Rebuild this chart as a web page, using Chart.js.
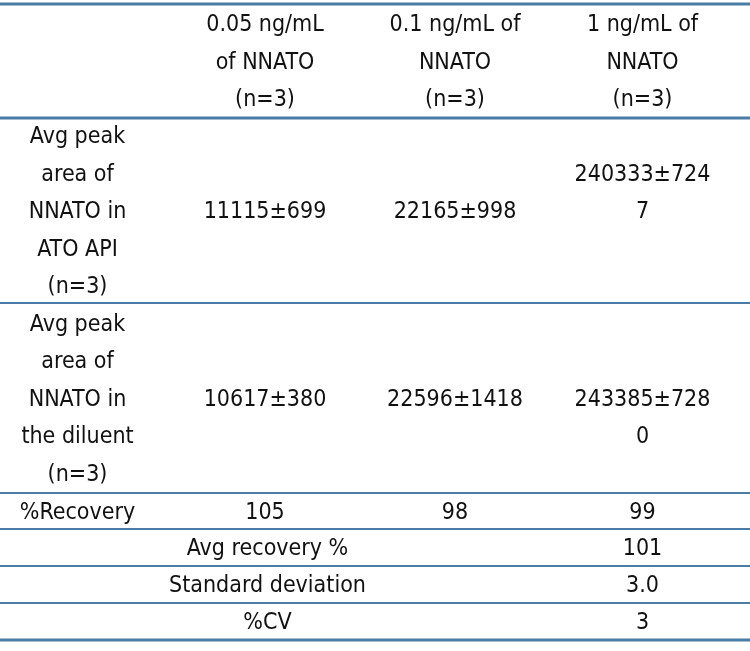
<!DOCTYPE html>
<html>
<head>
<meta charset="utf-8">
<script src="https://cdn.jsdelivr.net/npm/chart.js@4"></script>
<style>
  html, body { margin:0; padding:0; background:#fff; }
  #wrap { width:750px; height:651px; }
</style>
</head>
<body>
<div id="wrap"><canvas id="tbl"></canvas></div>
<script>
// Table data
const columnEdges = [0, 155, 375, 535, 750];
const rowEdges = [4, 118, 303, 493, 529, 566, 603, 640];
const thickLines = [0, 1, 7];

const headerCells = [
  ['0.05 ng/mL', 'of NNATO', '(n=3)'],
  ['0.1 ng/mL of', 'NNATO', '(n=3)'],
  ['1 ng/mL of', 'NNATO', '(n=3)']
];
const rowLabels = [
  ['Avg peak', 'area of', 'NNATO in', 'ATO API', '(n=3)'],
  ['Avg peak', 'area of', 'NNATO in', 'the diluent', '(n=3)'],
  ['%Recovery']
];
const spikedArea = ['11115±699', '22165±998', '240333±7247'];
const diluentArea = ['10617±380', '22596±1418', '243385±7280'];
const recovery = ['105', '98', '99'];
const summaryLabels = ['Avg recovery %', 'Standard deviation', '%CV'];
const summaryValues = ['101', '3.0', '3'];

// wrap long values the way the source cell did (10 chars per line)
function wrap(s) {
  const out = [];
  for (let i = 0; i < s.length; i += 10) out.push(s.slice(i, i + 10));
  return out;
}

// cells: row, col, span, lines, anchor
const cells = [];
headerCells.forEach((l, i) => cells.push({ r: 0, c: i + 1, span: 1, lines: l, anchor: 'mid' }));
rowLabels.forEach((l, i) => cells.push({ r: i + 1, c: 0, span: 1, lines: l, anchor: 'mid' }));
[spikedArea, diluentArea, recovery].forEach((vals, ri) => {
  vals.forEach((v, ci) => cells.push({ r: ri + 1, c: ci + 1, span: 1, lines: wrap(v), anchor: ri === 0 ? 'above' : 'first' }));
});
summaryLabels.forEach((l, i) => {
  cells.push({ r: i + 4, c: 0, span: 3, lines: [l], anchor: 'mid' });
  cells.push({ r: i + 4, c: 3, span: 1, lines: [summaryValues[i]], anchor: 'mid' });
});

const lineH = 37.5;

const tablePlugin = {
  id: 'tablePlugin',
  afterDraw(chart) {
    const ctx = chart.ctx, xs = chart.scales.x, ys = chart.scales.y;
    ctx.save();
    ctx.strokeStyle = '#4a7ca6';
    rowEdges.forEach((y, i) => {
      const py = ys.getPixelForValue(y);
      ctx.lineWidth = thickLines.includes(i) ? 3 : 2;
      ctx.beginPath();
      ctx.moveTo(xs.getPixelForValue(columnEdges[0]), py);
      ctx.lineTo(xs.getPixelForValue(columnEdges[columnEdges.length - 1]), py);
      ctx.stroke();
    });
    ctx.fillStyle = '#111';
    ctx.font = '23px "DejaVu Sans Condensed", "DejaVu Sans", sans-serif';
    ctx.textAlign = 'center';
    ctx.textBaseline = 'middle';
    cells.forEach(cell => {
      const cx = (xs.getPixelForValue(columnEdges[cell.c]) + xs.getPixelForValue(columnEdges[cell.c + cell.span])) / 2;
      const cy = (ys.getPixelForValue(rowEdges[cell.r]) + ys.getPixelForValue(rowEdges[cell.r + 1])) / 2 + 2;
      const n = cell.lines.length;
      let y0 = cy - (n - 1) * lineH / 2;
      if (n > 1 && cell.anchor === 'first') y0 = cy;
      if (n > 1 && cell.anchor === 'above') y0 = cy - lineH;
      cell.lines.forEach((t, k) => ctx.fillText(t, cx, y0 + k * lineH));
    });
    ctx.restore();
  }
};

new Chart(document.getElementById('tbl'), {
  type: 'scatter',
  data: { datasets: [{ data: [] }] },
  options: {
    responsive: true,
    maintainAspectRatio: false,
    animation: false,
    layout: { padding: 0 },
    plugins: { legend: { display: false }, tooltip: { enabled: false } },
    scales: {
      x: { type: 'linear', min: 0, max: 750, display: false },
      y: { type: 'linear', min: 0, max: 651, reverse: true, display: false }
    }
  },
  plugins: [tablePlugin]
});
</script>
</body>
</html>
